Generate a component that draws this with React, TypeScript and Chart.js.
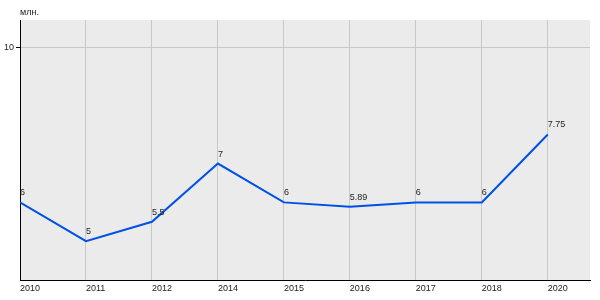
import { useEffect, useRef } from "react";
import { Chart, registerables } from "chart.js";

Chart.register(...registerables);

const categories = ["2010", "2011", "2012", "2014", "2015", "2016", "2017", "2018", "2020"];
const values = [6, 5, 5.5, 7, 6, 5.89, 6, 6, 7.75];
const valueLabels = ["6", "5", "5.5", "7", "6", "5.89", "6", "6", "7.75"];
const yTicks = [10];
const unitLabel = "млн.";

const FONT = "'Liberation Sans', Arial, sans-serif";

const bgPlugin = {
  id: "plotBg",
  beforeDraw(chart: any) {
    const { ctx, chartArea } = chart;
    ctx.save();
    ctx.fillStyle = "#ebebeb";
    ctx.fillRect(chartArea.left, chartArea.top, chartArea.right - chartArea.left, chartArea.bottom - chartArea.top);
    ctx.restore();
  },
  afterDraw(chart: any) {
    const { ctx, chartArea } = chart;
    ctx.save();
    ctx.font = `9px ${FONT}`;
    ctx.fillStyle = "#222";
    ctx.textAlign = "left";
    ctx.textBaseline = "middle";
    ctx.fillText(unitLabel, chartArea.left, 13);
    const meta = chart.getDatasetMeta(0);
    meta.data.forEach((pt: any, i: number) => {
      ctx.textBaseline = "bottom";
      ctx.fillText(valueLabels[i], pt.x, pt.y - 5);
    });
    ctx.restore();
  },
};

export default function App() {
  const ref = useRef<HTMLCanvasElement>(null);
  useEffect(() => {
    document.body.style.margin = "0";
    const chart = new Chart(ref.current!, {
      type: "line",
      data: {
        datasets: [
          {
            data: values.map((v, i) => ({ x: i, y: v })),
            borderColor: "#0050e6",
            borderWidth: 2,
            pointRadius: 0,
            tension: 0,
          },
        ],
      },
      options: {
        animation: false,
        responsive: false,
        maintainAspectRatio: false,
        layout: { padding: { top: 20, right: 10, left: 0, bottom: 0 } },
        plugins: { legend: { display: false }, tooltip: { enabled: false } },
        scales: {
          x: {
            type: "linear",
            min: 0,
            max: 8.64,
            afterBuildTicks: (s: any) => {
              s.ticks = categories.map((_, i) => ({ value: i }));
            },
            afterFit: (s: any) => {
              s.height = 20;
            },
            ticks: {
              callback: (v: any) => categories[v] ?? "",
              align: "start",
              font: { family: FONT, size: 9 },
              color: "#222",
              padding: 3,
              maxRotation: 0,
              autoSkip: false,
            },
            grid: { color: "#c8c8c8", drawTicks: false, lineWidth: 1 },
            border: { color: "#000", width: 1 },
          },
          y: {
            min: 4,
            max: 10.7,
            afterBuildTicks: (s: any) => {
              s.ticks = yTicks.map((v) => ({ value: v }));
            },
            afterFit: (s: any) => {
              s.width = 20;
            },
            ticks: {
              font: { family: FONT, size: 9 },
              color: "#222",
              padding: 2,
            },
            grid: { color: "#c8c8c8", tickColor: "#000", tickLength: 4, lineWidth: 1 },
            border: { color: "#000", width: 1 },
          },
        },
      },
      plugins: [bgPlugin],
    });
    return () => chart.destroy();
  }, []);
  return (
    <div style={{ width: 600, height: 300 }}>
      <canvas ref={ref} width={600} height={300} />
    </div>
  );
}
